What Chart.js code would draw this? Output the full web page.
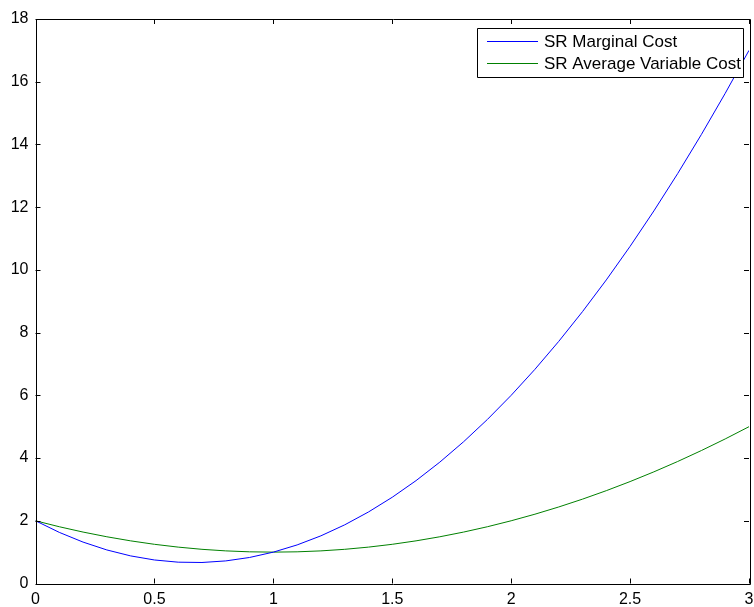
<!DOCTYPE html>
<html>
<head>
<meta charset="utf-8">
<script src="https://cdn.jsdelivr.net/npm/chart.js@4"></script>
<style>
  html, body { margin: 0; padding: 0; background: #fff; }
  #wrap { width: 754px; height: 607px; position: relative; }
</style>
</head>
<body>
<div id="wrap"><canvas id="chart"></canvas></div>
<script>
'use strict';

// output level q
const quantity = [0, 0.1, 0.2, 0.3, 0.4, 0.5, 0.6, 0.7, 0.8, 0.9, 1.0,
  1.1, 1.2, 1.3, 1.4, 1.5, 1.6, 1.7, 1.8, 1.9, 2.0,
  2.1, 2.2, 2.3, 2.4, 2.5, 2.6, 2.7, 2.8, 2.9, 3.0];

const marginalCost = [2, 1.63, 1.32, 1.07, 0.88, 0.75, 0.68, 0.67, 0.72, 0.83, 1.0,
  1.23, 1.52, 1.87, 2.28, 2.75, 3.28, 3.87, 4.52, 5.23, 6.0,
  6.83, 7.72, 8.67, 9.68, 10.75, 11.88, 13.07, 14.32, 15.63, 17];

const avgVariableCost = [2, 1.81, 1.64, 1.49, 1.36, 1.25, 1.16, 1.09, 1.04, 1.01, 1.0,
  1.01, 1.04, 1.09, 1.16, 1.25, 1.36, 1.49, 1.64, 1.81, 2.0,
  2.21, 2.44, 2.69, 2.96, 3.25, 3.56, 3.89, 4.24, 4.61, 5];

const xTicks = [0, 0.5, 1, 1.5, 2, 2.5, 3];
const xTickLabels = ['0', '0.5', '1', '1.5', '2', '2.5', '3'];
const yTicks = [0, 2, 4, 6, 8, 10, 12, 14, 16, 18];

const seriesLabels = ['SR Marginal Cost', 'SR Average Variable Cost'];
const seriesColors = ['#0000ff', '#008000'];

const FONT = '"Liberation Sans", Arial, sans-serif';

function toPoints(xs, ys) {
  return xs.map((x, i) => ({ x: x, y: ys[i] }));
}

// matlab style box with inward ticks on all four sides
const boxPlugin = {
  id: 'matlabBox',
  afterDraw(chart) {
    const { ctx, chartArea: a, scales } = chart;
    const tick = 5;
    ctx.save();
    ctx.lineWidth = 1;
    ctx.strokeStyle = '#000';
    ctx.beginPath();
    ctx.rect(Math.round(a.left) + 0.5, Math.round(a.top) + 0.5,
      Math.round(a.right - a.left), Math.round(a.bottom - a.top));
    for (const v of xTicks) {
      const px = Math.round(scales.x.getPixelForValue(v)) + 0.5;
      ctx.moveTo(px, a.bottom); ctx.lineTo(px, a.bottom - tick);
      ctx.moveTo(px, a.top); ctx.lineTo(px, a.top + tick);
    }
    for (const v of yTicks) {
      const py = Math.round(scales.y.getPixelForValue(v)) + 0.5;
      ctx.moveTo(a.left, py); ctx.lineTo(a.left + tick, py);
      ctx.moveTo(a.right, py); ctx.lineTo(a.right - tick, py);
    }
    ctx.stroke();

    // legend box, top right inside the axes
    const lx = 477.5, ly = 28.5, lw = 266, lh = 49;
    ctx.fillStyle = '#fff';
    ctx.fillRect(lx, ly, lw, lh);
    ctx.beginPath();
    ctx.rect(lx, ly, lw, lh);
    ctx.strokeStyle = '#000';
    ctx.stroke();
    ctx.font = '17px ' + FONT;
    ctx.textBaseline = 'middle';
    seriesLabels.forEach((label, i) => {
      const y = 41.5 + i * 22;
      ctx.beginPath();
      ctx.moveTo(487, y);
      ctx.lineTo(538, y);
      ctx.strokeStyle = seriesColors[i];
      ctx.stroke();
      ctx.fillStyle = '#000';
      ctx.fillText(label, 544, y + 1);
    });
    ctx.restore();
  }
};

new Chart(document.getElementById('chart'), {
  type: 'scatter',
  data: {
    datasets: [
      {
        label: seriesLabels[0],
        data: toPoints(quantity, marginalCost),
        showLine: true,
        borderColor: seriesColors[0],
        borderWidth: 1,
        pointRadius: 0,
        tension: 0,
      },
      {
        label: seriesLabels[1],
        data: toPoints(quantity, avgVariableCost),
        showLine: true,
        borderColor: seriesColors[1],
        borderWidth: 1,
        pointRadius: 0,
        tension: 0,
      }
    ]
  },
  options: {
    animation: false,
    responsive: true,
    maintainAspectRatio: false,
    devicePixelRatio: 1,
    layout: {
      padding: { top: 19, right: 5, left: 0, bottom: 0 }
    },
    plugins: {
      legend: { display: false },
      tooltip: { enabled: false },
    },
    scales: {
      x: {
        type: 'linear',
        min: 0,
        max: 3,
        afterBuildTicks: (scale) => { scale.ticks = xTicks.map(v => ({ value: v })); },
        afterFit: (scale) => {
          scale.height = 23.5;
          scale.paddingLeft = 0;
          scale.paddingRight = 0;
        },
        grid: { display: false, drawTicks: false },
        border: { display: false },
        ticks: {
          color: '#000',
          padding: 6,
          maxRotation: 0,
          autoSkip: false,
          font: { family: FONT, size: 16 },
          callback: (value, index) => xTickLabels[index],
        },
      },
      y: {
        type: 'linear',
        min: 0,
        max: 18,
        afterBuildTicks: (scale) => { scale.ticks = yTicks.map(v => ({ value: v })); },
        afterFit: (scale) => {
          scale.width = 35.5;
          scale.paddingTop = 0;
          scale.paddingBottom = 0;
        },
        grid: { display: false, drawTicks: false },
        border: { display: false },
        ticks: {
          color: '#000',
          padding: 7,
          autoSkip: false,
          font: { family: FONT, size: 16 },
        },
      }
    }
  },
  plugins: [boxPlugin]
});
</script>
</body>
</html>
